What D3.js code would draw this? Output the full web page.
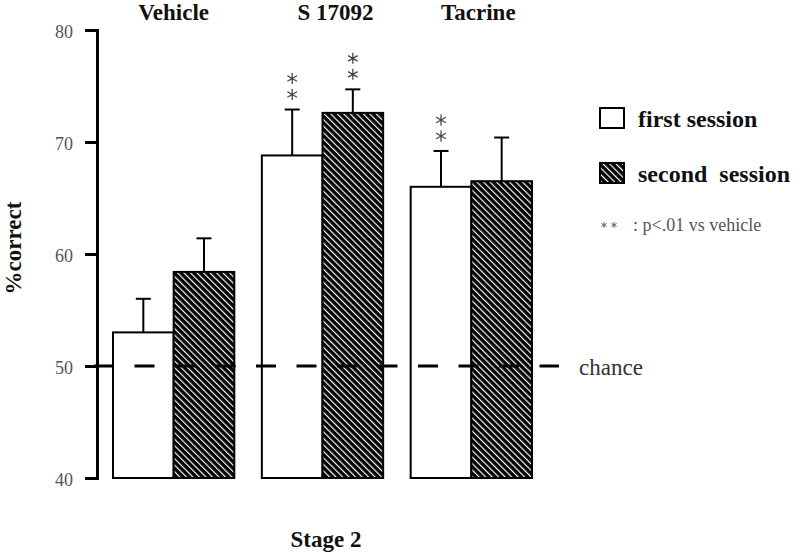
<!DOCTYPE html>
<html lang="en">
<head>
  <meta charset="UTF-8">
  <title>Stage 2 - % correct</title>
  <style>
    body { margin: 0; background: #fff; }
    svg { display: block; font-family: "Liberation Serif", "DejaVu Serif", serif; }
    .axis path, .axis line { stroke: #000; stroke-width: 3; }
    .axis text { font-family: "Liberation Serif", serif; font-size: 18px; fill: #555; }
    .title { font-size: 23px; font-weight: bold; fill: #111; }
  </style>
</head>
<body>
  <div id="chart"></div>
  <script src="https://cdn.jsdelivr.net/npm/d3@7"></script>
  <script>
    // values
    const groups = ["Vehicle", "S 17092", "Tacrine"];
    const sessions = ["first session", "second session"];
    const firstMean = [53.0, 68.8, 66.0];
    const firstSem = [3.0, 4.1, 3.2];
    const secondMean = [58.4, 72.6, 66.5];
    const secondSem = [3.0, 2.1, 3.9];
    const firstSig = [false, true, true];
    const secondSig = [false, true, false];
    const yTicks = [40, 50, 60, 70, 80];
    const chanceLevel = 50;

    const width = 800, height = 559;

    // rows for drawing
    const rows = [];
    groups.forEach(function (g, i) {
      rows.push({ group: g, session: sessions[0], mean: firstMean[i], sem: firstSem[i], sig: firstSig[i] });
      rows.push({ group: g, session: sessions[1], mean: secondMean[i], sem: secondSem[i], sig: secondSig[i] });
    });

    const svg = d3.select("#chart").append("svg")
      .attr("width", width)
      .attr("height", height);

    // hatch for second session
    const defs = svg.append("defs");
    const pat = defs.append("pattern")
      .attr("id", "hatch")
      .attr("patternUnits", "userSpaceOnUse")
      .attr("width", 4.6)
      .attr("height", 4.6)
      .attr("patternTransform", "rotate(-45)");
    pat.append("rect").attr("width", 4.6).attr("height", 4.6).attr("fill", "#000");
    pat.append("line")
      .attr("x1", 1.5).attr("y1", 0).attr("x2", 1.5).attr("y2", 4.6)
      .attr("stroke", "#fff").attr("stroke-width", 1.2);

    //scales
    const y = d3.scaleLinear().domain([40, 80]).range([478, 30]);
    const x0 = d3.scaleBand().domain(groups).range([113, 532]).paddingInner(0.185).paddingOuter(0);
    const x1 = d3.scaleBand().domain(sessions).range([0, x0.bandwidth()]).padding(0);
    const fillFor = function (s) { return s === sessions[0] ? "#fff" : "url(#hatch)"; };

    // y axis
    svg.append("g")
      .attr("class", "axis")
      .attr("transform", "translate(97,0)")
      .call(d3.axisLeft(y).tickValues(yTicks).tickSize(12).tickSizeOuter(12).tickPadding(12))
      .attr("font-family", null)
      .call(function (g) { g.selectAll("text").attr("dy", "0.4em"); });

    // bars
    svg.append("g").selectAll("rect")
      .data(rows)
      .enter()
      .append("rect")
      .attr("x", function (d) { return x0(d.group) + x1(d.session); })
      .attr("y", function (d) { return y(d.mean); })
      .attr("width", x1.bandwidth())
      .attr("height", function (d) { return y(40) - y(d.mean); })
      .attr("fill", function (d) { return fillFor(d.session); })
      .attr("stroke", "#000")
      .attr("stroke-width", 2);

    // error bars (upper only)
    const cx = function (d) { return x0(d.group) + x1(d.session) + x1.bandwidth() / 2; };
    const err = svg.append("g").attr("stroke", "#000").attr("stroke-width", 2);
    err.selectAll("line.v")
      .data(rows).enter().append("line")
      .attr("class", "v")
      .attr("x1", cx).attr("x2", cx)
      .attr("y1", function (d) { return y(d.mean); })
      .attr("y2", function (d) { return y(d.mean + d.sem); });
    err.selectAll("line.cap")
      .data(rows).enter().append("line")
      .attr("class", "cap")
      .attr("x1", function (d) { return cx(d) - 7.5; })
      .attr("x2", function (d) { return cx(d) + 7.5; })
      .attr("y1", function (d) { return y(d.mean + d.sem); })
      .attr("y2", function (d) { return y(d.mean + d.sem); });

    // significance stars
    const star = d3.symbol().type(d3.symbolAsterisk).size(85);
    const sigRows = rows.filter(function (d) { return d.sig; });
    [15, 31].forEach(function (off) {
      svg.append("g").selectAll("path")
        .data(sigRows).enter().append("path")
        .attr("d", star)
        .attr("fill", "none")
        .attr("stroke", "#444")
        .attr("stroke-width", 1.3)
        .attr("transform", function (d) {
          return "translate(" + cx(d) + "," + (y(d.mean + d.sem) - off) + ")";
        });
    });

    // chance line
    svg.append("line")
      .attr("x1", 94).attr("x2", 559)
      .attr("y1", y(chanceLevel)).attr("y2", y(chanceLevel))
      .attr("stroke", "#000")
      .attr("stroke-width", 3)
      .attr("stroke-dasharray", "20,20.5");
    svg.append("text")
      .attr("x", 579).attr("y", y(chanceLevel) + 9)
      .style("font-size", "23px").style("fill", "#333")
      .text("chance");

    // group titles
    const titleNudge = [0, 13, 7];
    svg.append("g").selectAll("text")
      .data(groups).enter().append("text")
      .attr("class", "title")
      .attr("text-anchor", "middle")
      .attr("x", function (d, i) { return x0(d) + x0.bandwidth() / 2 + titleNudge[i]; })
      .attr("y", 20)
      .text(function (d) { return d; });

    // axis titles
    svg.append("text")
      .attr("class", "title")
      .attr("text-anchor", "middle")
      .attr("transform", "translate(21,248) rotate(-90)")
      .text("%correct");
    svg.append("text")
      .attr("class", "title")
      .attr("text-anchor", "middle")
      .attr("x", 326).attr("y", 547)
      .text("Stage 2");

    // legend
    const legend = svg.append("g").attr("transform", "translate(600,108)");
    const item = legend.selectAll("g")
      .data(sessions).enter().append("g")
      .attr("transform", function (d, i) { return "translate(0," + (i * 55) + ")"; });
    item.append("rect")
      .attr("width", 24).attr("height", 20)
      .attr("fill", fillFor)
      .attr("stroke", "#000").attr("stroke-width", 2);
    item.append("text")
      .attr("x", 38).attr("y", 19)
      .attr("class", "title")
      .style("font-size", "24px")
      .style("white-space", "pre")
      .text(function (d) { return d === sessions[1] ? "second  session" : d; });

    const note = legend.append("g").attr("transform", "translate(0,118)");
    [4, 14].forEach(function (dx) {
      note.append("path")
        .attr("d", d3.symbol().type(d3.symbolAsterisk).size(25)())
        .attr("transform", "translate(" + dx + ",-1)")
        .attr("fill", "none").attr("stroke", "#666").attr("stroke-width", 1);
    });
    note.append("text")
      .attr("x", 33).attr("y", 5)
      .style("font-size", "18px").style("fill", "#555")
      .text(": p<.01 vs vehicle");
  </script>
</body>
</html>
